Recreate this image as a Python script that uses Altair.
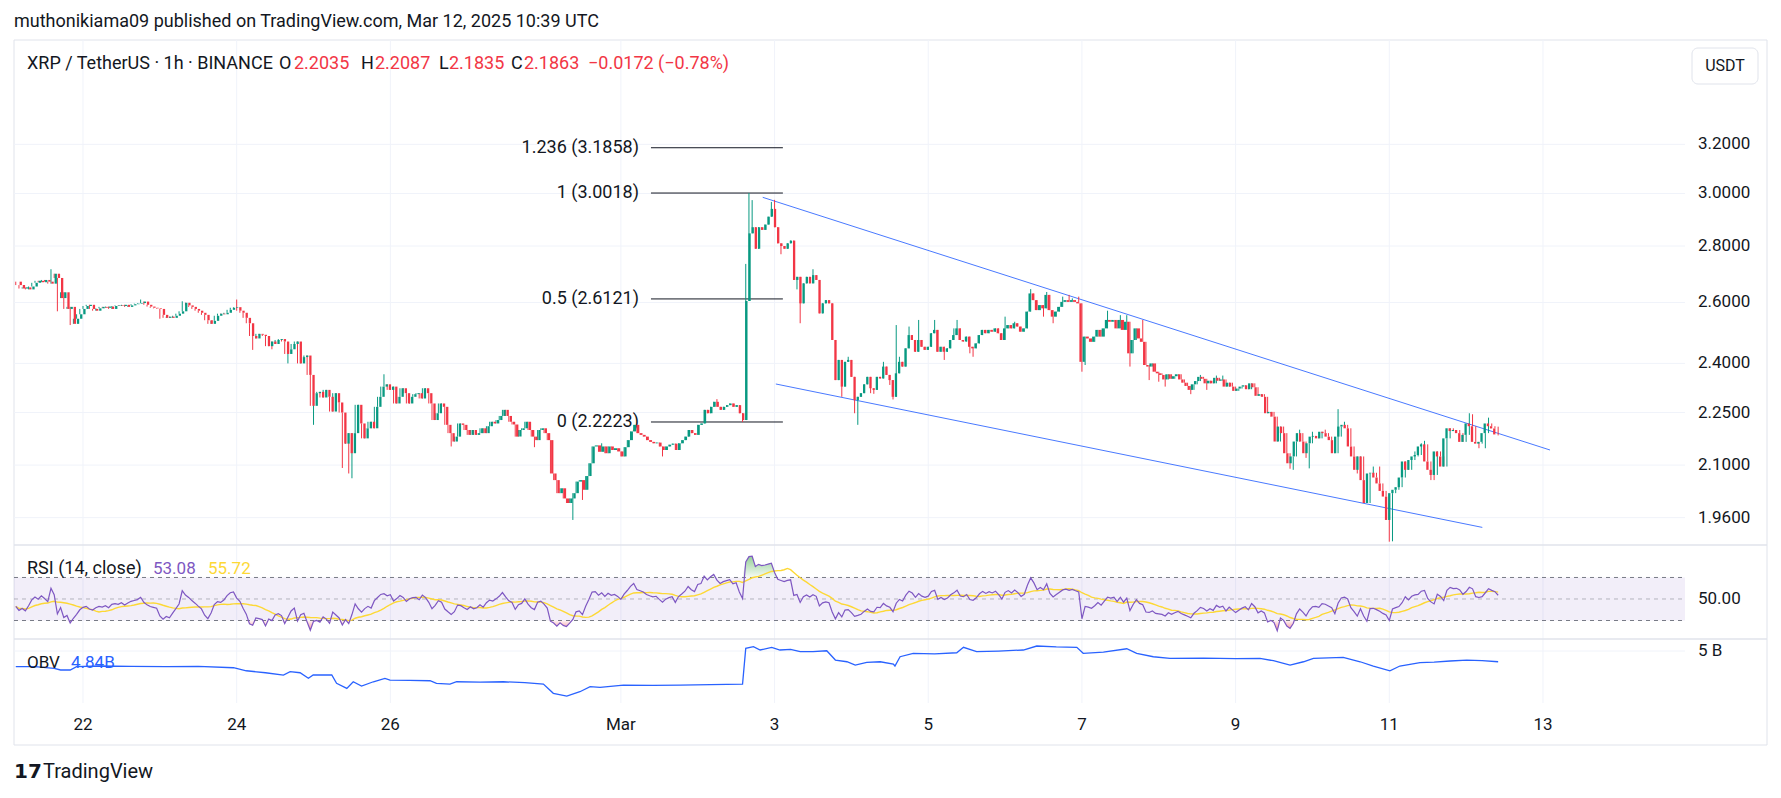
import altair as alt
import pandas as pd
import numpy as np

W, H = 1765, 782
FONT = "Roboto"
INK = "#131722"
UP, DOWN = "#089981", "#F23645"
GRID = "#F0F3FA"
BORDER = "#E0E3EB"
RSI_COL, MA_COL, OBV_COL = "#7E57C2", "#FDD835", "#2962FF"

# ---------------- hourly candles (hour index 0 = Feb 22 00:00 UTC) ----------------
first_open = 2.672
feb21 = [2.660, 2.648, 2.652, 2.645, 2.655, 2.668, 2.675, 2.670, 2.678, 2.672, 2.665, 2.700, 2.685, 2.615, 2.635, 2.578, 2.585, 2.528, 2.545, 2.560, 2.578]
feb22 = [2.588, 2.592, 2.578, 2.572, 2.580, 2.585, 2.582, 2.586, 2.578, 2.588, 2.590, 2.588, 2.592, 2.585, 2.590, 2.594, 2.596, 2.598, 2.603, 2.592, 2.586, 2.582, 2.580, 2.578]
feb23 = [2.558, 2.548, 2.552, 2.548, 2.555, 2.562, 2.570, 2.599, 2.590, 2.585, 2.578, 2.572, 2.565, 2.558, 2.540, 2.528, 2.538, 2.555, 2.562, 2.560, 2.565, 2.575, 2.582, 2.584]
feb24 = [2.572, 2.565, 2.548, 2.530, 2.488, 2.480, 2.495, 2.492, 2.488, 2.455, 2.470, 2.462, 2.475, 2.478, 2.470, 2.430, 2.445, 2.462, 2.470, 2.400, 2.420, 2.425, 2.364, 2.270]
feb25 = [2.308, 2.312, 2.295, 2.318, 2.297, 2.253, 2.308, 2.280, 2.250, 2.160, 2.190, 2.133, 2.190, 2.273, 2.218, 2.175, 2.204, 2.223, 2.204, 2.267, 2.297, 2.328, 2.335, 2.318]
feb26 = [2.328, 2.277, 2.297, 2.323, 2.308, 2.277, 2.297, 2.305, 2.308, 2.292, 2.323, 2.308, 2.277, 2.228, 2.248, 2.277, 2.267, 2.214, 2.190, 2.166, 2.180, 2.218, 2.214, 2.199]
feb27 = [2.185, 2.199, 2.185, 2.190, 2.204, 2.190, 2.210, 2.223, 2.218, 2.228, 2.240, 2.258, 2.240, 2.223, 2.215, 2.180, 2.199, 2.204, 2.223, 2.199, 2.180, 2.170, 2.199, 2.204]
feb28 = [2.190, 2.170, 2.077, 2.059, 2.024, 2.037, 2.010, 1.998, 2.010, 2.024, 2.055, 2.059, 2.033, 2.070, 2.105, 2.152, 2.155, 2.137, 2.152, 2.133, 2.152, 2.142, 2.147, 2.138]
mar01 = [2.124, 2.150, 2.170, 2.195, 2.214, 2.190, 2.185, 2.180, 2.170, 2.165, 2.161, 2.163, 2.152, 2.142, 2.152, 2.157, 2.160, 2.142, 2.161, 2.170, 2.180, 2.199, 2.190, 2.185]
mar02 = [2.214, 2.218, 2.258, 2.248, 2.267, 2.282, 2.267, 2.258, 2.267, 2.272, 2.277, 2.267, 2.272, 2.248, 2.228, 2.605, 2.847, 2.870, 2.790, 2.870, 2.860, 2.880, 2.910, 2.940]
mar03 = [2.870, 2.810, 2.800, 2.790, 2.810, 2.820, 2.678, 2.689, 2.597, 2.666, 2.689, 2.666, 2.695, 2.678, 2.563, 2.597, 2.608, 2.597, 2.475, 2.348, 2.411, 2.328, 2.405, 2.411]
mar04 = [2.358, 2.287, 2.297, 2.308, 2.335, 2.358, 2.323, 2.318, 2.358, 2.353, 2.390, 2.364, 2.348, 2.297, 2.369, 2.405, 2.390, 2.448, 2.491, 2.475, 2.437, 2.475, 2.453, 2.443]
mar05 = [2.453, 2.497, 2.508, 2.437, 2.453, 2.437, 2.448, 2.475, 2.491, 2.513, 2.475, 2.470, 2.486, 2.453, 2.448, 2.464, 2.491, 2.508, 2.497, 2.508, 2.502, 2.513, 2.497, 2.475]
mar06 = [2.513, 2.524, 2.513, 2.530, 2.519, 2.502, 2.513, 2.569, 2.631, 2.608, 2.574, 2.591, 2.580, 2.626, 2.574, 2.552, 2.569, 2.585, 2.602, 2.608, 2.602, 2.608, 2.602, 2.597]
mar07 = [2.405, 2.486, 2.480, 2.469, 2.486, 2.508, 2.486, 2.513, 2.541, 2.535, 2.541, 2.513, 2.541, 2.508, 2.535, 2.432, 2.475, 2.513, 2.480, 2.469, 2.395, 2.390, 2.400, 2.374]
mar08 = [2.369, 2.364, 2.350, 2.366, 2.352, 2.360, 2.366, 2.350, 2.340, 2.330, 2.318, 2.335, 2.345, 2.358, 2.352, 2.338, 2.346, 2.338, 2.355, 2.346, 2.350, 2.328, 2.340, 2.328]
mar09 = [2.315, 2.322, 2.328, 2.332, 2.320, 2.338, 2.326, 2.300, 2.305, 2.297, 2.248, 2.252, 2.238, 2.166, 2.209, 2.190, 2.133, 2.105, 2.124, 2.166, 2.190, 2.166, 2.133, 2.161]
mar10 = [2.180, 2.182, 2.175, 2.194, 2.190, 2.180, 2.170, 2.133, 2.180, 2.209, 2.214, 2.204, 2.152, 2.124, 2.087, 2.124, 2.059, 1.998, 2.077, 2.079, 2.066, 2.050, 2.030, 2.015]
mar11 = [1.954, 2.024, 2.033, 2.040, 2.066, 2.110, 2.087, 2.114, 2.124, 2.128, 2.152, 2.158, 2.110, 2.087, 2.073, 2.138, 2.124, 2.096, 2.175, 2.204, 2.196, 2.199, 2.190, 2.165]
mar12 = [2.185, 2.218, 2.210, 2.165, 2.160, 2.165, 2.190, 2.218, 2.210, 2.2035, 2.1863]
first_hour = -21

# visible wick extremes (hour index -> price)
wick_hi = {-10: 2.716, 18: 2.610, 31: 2.604, 48: 2.610, 94: 2.366, 162: 2.161, 198: 2.290,
           207: 2.735, 208: 3.0018, 209: 2.974, 215: 2.967, 216: 2.975, 228: 2.716, 239: 2.421,
           250: 2.405, 254: 2.524, 255: 2.421, 258: 2.519, 261: 2.541, 266: 2.541, 272: 2.513,
           273: 2.541, 288: 2.552, 291: 2.535, 296: 2.646, 301: 2.636, 306: 2.620, 308: 2.626,
           309: 2.614, 311: 2.620, 320: 2.572, 324: 2.557, 326: 2.557, 331: 2.541, 349: 2.364,
           354: 2.362, 356: 2.362, 380: 2.200, 384: 2.194, 388: 2.200, 392: 2.260, 394: 2.223,
           403: 2.096, 405: 2.096, 408: 2.020, 411: 2.060, 416: 2.138, 418: 2.161, 419: 2.168,
           433: 2.248, 434: 2.245, 439: 2.235, 442: 2.2087}
wick_lo = {-8: 2.570, -4: 2.524, 24: 2.545, 53: 2.443, 59: 2.445, 64: 2.400, 72: 2.214, 81: 2.092,
           83: 2.077, 84: 2.064, 115: 2.152, 141: 2.150, 153: 1.954, 156: 2.006, 181: 2.124,
           206: 2.2223, 218: 2.770, 223: 2.645, 224: 2.530, 237: 2.297, 241: 2.248, 242: 2.214,
           246: 2.308, 247: 2.306, 252: 2.333, 253: 2.289, 269: 2.411, 277: 2.432, 278: 2.421,
           300: 2.552, 303: 2.530, 312: 2.374, 313: 2.395, 327: 2.390, 333: 2.348, 336: 2.343,
           338: 2.328, 346: 2.305, 351: 2.318, 377: 2.090, 378: 2.087, 382: 2.120, 383: 2.091,
           398: 2.077, 408: 1.899, 409: 1.900, 421: 2.059, 422: 2.059, 436: 2.147, 438: 2.147,
           442: 2.1835}

# OBV (billions)
obv_h = [-21, -15, -9, -7, -4, -2, 5, 15, 26, 36, 47, 51, 57, 62.6, 64.7, 67.8, 70.4, 71.9, 77.7, 79.2,
         82.4, 84.4, 87, 90.7, 94.3, 95.9, 102, 108.4, 110.4, 114.6, 116.7, 124, 131.3, 138, 143.8,
         146.9, 151.1, 155.2, 158.4, 161.5, 168.8, 178, 186.5, 196, 206, 207, 209.4, 211.5, 215.1,
         217.7, 221, 224, 228, 232.3, 235, 238.6, 241.2, 244.8, 249, 253.1, 253.6, 255.2, 259.3, 266,
         272.9, 275, 279.1, 286, 293.7, 297.9, 304, 310.4, 312.4, 318.7, 326, 329.1, 334.3, 339.5,
         350, 360, 367.6, 371.8, 377, 381.2, 384.3, 393.6, 398.9, 403, 408.2, 411.3, 417.6, 422,
         427, 432.2, 437, 442]
obv_b = [4.772, 4.772, 4.748, 4.724, 4.724, 4.772, 4.782, 4.778, 4.772, 4.776, 4.757, 4.713, 4.684,
         4.651, 4.699, 4.684, 4.603, 4.651, 4.651, 4.530, 4.457, 4.553, 4.491, 4.553, 4.603, 4.578,
         4.573, 4.568, 4.530, 4.520, 4.553, 4.548, 4.553, 4.540, 4.520, 4.385, 4.345, 4.408, 4.481,
         4.472, 4.505, 4.500, 4.505, 4.512, 4.520, 5.039, 5.063, 5.015, 5.054, 5.015, 5.025, 4.990,
         4.990, 5.004, 4.869, 4.844, 4.796, 4.836, 4.844, 4.811, 4.782, 4.917, 4.967, 4.960, 4.975,
         5.054, 4.990, 5.000, 5.015, 5.073, 5.060, 5.054, 4.967, 4.985, 5.033, 4.967, 4.917, 4.894,
         4.898, 4.890, 4.894, 4.859, 4.796, 4.844, 4.894, 4.908, 4.844, 4.782, 4.713, 4.782, 4.830,
         4.838, 4.855, 4.869, 4.860, 4.844]

# drawings
fib_levels = ["1.236", "1", "0.5", "0"]
fib_prices = [3.1858, 3.0018, 2.6121, 2.2223]
fib_h_start, fib_h_end = 177.4, 218.6
chan_id = ["upper", "upper", "lower", "lower"]
chan_h = [212.3, 458.2, 216.4, 437.05]
chan_p = [2.985, 2.142, 2.336, 1.935]

# axes
price_ticks = [3.2, 3.0, 2.8, 2.6, 2.4, 2.25, 2.1, 1.96]
price_tick_labels = ["3.2000", "3.0000", "2.8000", "2.6000", "2.4000", "2.2500", "2.1000", "1.9600"]
day_ticks_h = [0, 48, 96, 168, 216, 264, 312, 360, 408, 456]
day_labels = ["22", "24", "26", "Mar", "3", "5", "7", "9", "11", "13"]
rsi_period = 14
rsi_seed_gain, rsi_seed_loss = 0.0045, 0.0050

# ---------------- tables ----------------
closes = (feb21 + feb22 + feb23 + feb24 + feb25 + feb26 + feb27 + feb28 + mar01 + mar02 + mar03 +
          mar04 + mar05 + mar06 + mar07 + mar08 + mar09 + mar10 + mar11 + mar12)
hours = list(range(first_hour, first_hour + len(closes)))
opens = [first_open] + closes[:-1]
his, los = [], []
for hh, o, c in zip(hours, opens, closes):
    top, bot = max(o, c), min(o, c)
    his.append(max(top, wick_hi.get(hh, top)))
    los.append(min(bot, wick_lo.get(hh, bot)))
candles = pd.DataFrame({"h": hours, "o": opens, "c": closes, "hi": his, "lo": los})
candles["dir"] = np.where(candles["c"] >= candles["o"], "up", "down")

ag, al, prev = rsi_seed_gain, rsi_seed_loss, first_open
rsi = []
for c in closes:
    d = c - prev
    prev = c
    ag = (ag * (rsi_period - 1) + max(d, 0.0)) / rsi_period
    al = (al * (rsi_period - 1) + max(-d, 0.0)) / rsi_period
    rsi.append(100.0 - 100.0 / (1.0 + ag / al))
ma = [float(np.mean(rsi[max(0, i - rsi_period + 1): i + 1])) for i in range(len(rsi))]
rsi_df = pd.DataFrame({"h": hours, "rsi": rsi, "ma": ma})
rsi_df["ob"] = np.maximum(rsi_df["rsi"], 70)
rsi_df["os"] = np.minimum(rsi_df["rsi"], 30)
rsi_df["l70"] = 70.0
rsi_df["l30"] = 30.0
obv_df = pd.DataFrame({"h": obv_h, "v": obv_b})

fib_df = pd.DataFrame({"p": fib_prices, "h0": fib_h_start, "h1": fib_h_end,
                       "t": [f"{l} ({p:.4f})" for l, p in zip(fib_levels, fib_prices)]})
chan_df = pd.DataFrame({"id": chan_id, "h": chan_h, "p": chan_p})
ptick_df = pd.DataFrame({"p": price_ticks, "t": price_tick_labels})
day_df = pd.DataFrame({"h": day_ticks_h, "t": day_labels})

# ---------------- scales ----------------
H_LEFT, H_RIGHT = -21.551, 500.36
xs = alt.Scale(domain=[H_LEFT, H_RIGHT], range=[6, 1677], nice=False, zero=False)
ysp = alt.Scale(type="log", domain=[1.8908, 3.670], range=[537, 32], nice=False)
ysr = alt.Scale(domain=[12.8, 100.2], range=[631, 537], nice=False, zero=False)
yso = alt.Scale(domain=[4.244, 5.175], range=[695, 631], nice=False, zero=False)
pxx = alt.Scale(domain=[0, W], range=[0, W], nice=False, zero=False)
pxy = alt.Scale(domain=[0, H], range=[0, H], nice=False, zero=False)


def X(f):
    return alt.X(f, type="quantitative", scale=xs, axis=None)


def Y(f, s):
    return alt.Y(f, type="quantitative", scale=s, axis=None)


def PX(f):
    return alt.X(f, type="quantitative", scale=pxx, axis=None)


def PY(f):
    return alt.Y(f, type="quantitative", scale=pxy, axis=None)


def texts(rows, size, weight="normal", align="left", font=FONT):
    df = pd.DataFrame(rows, columns=["t", "x", "y", "col"])
    return alt.Chart(df).mark_text(align=align, baseline="middle", fontSize=size, font=font,
                                   fontWeight=weight).encode(
        x=PX("x"), y=PY("y"), text="t:N", color=alt.Color("col:N", scale=None))


layers = []
# frame
frame = pd.DataFrame({"x0": [6], "x1": [1759], "y0": [32], "y1": [737]})
layers.append(alt.Chart(frame).mark_rect(fill="white", stroke=BORDER, strokeWidth=1).encode(
    x=PX("x0"), x2="x1", y=PY("y0"), y2="y1"))
# vertical grid
layers.append(alt.Chart(day_df).mark_rule(color=GRID, strokeWidth=1).encode(
    x=X("h"), y=alt.value(32), y2=alt.value(695)))
# price grid
layers.append(alt.Chart(ptick_df).mark_rule(color=GRID, strokeWidth=1).encode(
    y=Y("p", ysp), x=alt.value(6), x2=alt.value(1677)))
# OBV grid
layers.append(alt.Chart(pd.DataFrame({"v": [5.0]})).mark_rule(color=GRID, strokeWidth=1).encode(
    y=Y("v", yso), x=alt.value(6), x2=alt.value(1677)))
# pane separators
sep = pd.DataFrame({"x0": [6, 6], "x1": [1759, 1759], "y": [537, 631]})
layers.append(alt.Chart(sep).mark_rule(color=BORDER, strokeWidth=1.5).encode(
    x=PX("x0"), x2="x1", y=PY("y")))
# RSI band
layers.append(alt.Chart(pd.DataFrame({"a": [30.0], "b": [70.0]})).mark_rect(
    color=RSI_COL, opacity=0.1).encode(y=Y("a", ysr), y2="b", x=alt.value(6), x2=alt.value(1677)))
layers.append(alt.Chart(pd.DataFrame({"v": [70.0, 30.0]})).mark_rule(
    color="#787B86", strokeDash=[4, 4], strokeWidth=1).encode(
    y=Y("v", ysr), x=alt.value(6), x2=alt.value(1677)))
layers.append(alt.Chart(pd.DataFrame({"v": [50.0]})).mark_rule(
    color="#787B86", strokeDash=[4, 4], strokeWidth=1, opacity=0.5).encode(
    y=Y("v", ysr), x=alt.value(6), x2=alt.value(1677)))

# fib retracement
layers.append(alt.Chart(fib_df).mark_rule(color=INK, strokeWidth=1).encode(
    x=X("h0"), x2="h1", y=Y("p", ysp)))
layers.append(alt.Chart(fib_df).mark_text(align="right", baseline="middle", dx=-12, fontSize=18,
                                          font=FONT, color=INK).encode(
    x=X("h0"), y=Y("p", ysp), text="t:N"))
# channel
layers.append(alt.Chart(chan_df).mark_line(color="#2962FF", strokeWidth=1, opacity=0.85).encode(
    x=X("h"), y=Y("p", ysp), detail="id:N"))
# candles
cscale = alt.Scale(domain=["up", "down"], range=[UP, DOWN])
layers.append(alt.Chart(candles).mark_rule(strokeWidth=1).encode(
    x=X("h"), y=Y("lo", ysp), y2="hi", color=alt.Color("dir:N", scale=cscale, legend=None)))
layers.append(alt.Chart(candles).mark_bar(size=2.3).encode(
    x=X("h"), y=Y("o", ysp), y2="c", color=alt.Color("dir:N", scale=cscale, legend=None)))

# RSI
ob_grad = alt.Gradient(gradient="linear", x1=0, x2=0, y1=1, y2=0,
                       stops=[alt.GradientStop(color="rgba(76,175,80,0.05)", offset=0),
                              alt.GradientStop(color="rgba(76,175,80,0.6)", offset=1)])
os_grad = alt.Gradient(gradient="linear", x1=0, x2=0, y1=0, y2=1,
                       stops=[alt.GradientStop(color="rgba(242,54,69,0.05)", offset=0),
                              alt.GradientStop(color="rgba(242,54,69,0.6)", offset=1)])
layers.append(alt.Chart(rsi_df).mark_area(color=ob_grad).encode(x=X("h"), y=Y("ob", ysr), y2="l70"))
layers.append(alt.Chart(rsi_df).mark_area(color=os_grad).encode(x=X("h"), y=Y("l30", ysr), y2="os"))
layers.append(alt.Chart(rsi_df).mark_line(color=MA_COL, strokeWidth=1.4).encode(x=X("h"), y=Y("ma", ysr)))
layers.append(alt.Chart(rsi_df).mark_line(color=RSI_COL, strokeWidth=1.2).encode(x=X("h"), y=Y("rsi", ysr)))
# OBV
layers.append(alt.Chart(obv_df).mark_line(color=OBV_COL, strokeWidth=1.3).encode(x=X("h"), y=Y("v", yso)))

# axis labels
layers.append(alt.Chart(ptick_df).mark_text(align="left", baseline="middle", fontSize=17, font=FONT,
                                            color=INK).encode(y=Y("p", ysp), x=alt.value(1690), text="t:N"))
layers.append(alt.Chart(pd.DataFrame({"v": [50.0], "t": ["50.00"]})).mark_text(
    align="left", baseline="middle", fontSize=17, font=FONT, color=INK).encode(
    y=Y("v", ysr), x=alt.value(1690), text="t:N"))
layers.append(alt.Chart(pd.DataFrame({"v": [5.0], "t": ["5 B"]})).mark_text(
    align="left", baseline="middle", fontSize=17, font=FONT, color=INK).encode(
    y=Y("v", yso), x=alt.value(1690), text="t:N"))
layers.append(alt.Chart(day_df).mark_text(align="center", baseline="middle", fontSize=17, font=FONT,
                                          color=INK).encode(x=X("h"), y=alt.value(717), text="t:N"))

# USDT box
layers.append(alt.Chart(pd.DataFrame({"x0": [1684], "x1": [1750], "y0": [40], "y1": [76]})).mark_rect(
    fill="white", stroke=BORDER, strokeWidth=1, cornerRadius=6).encode(
    x=PX("x0"), x2="x1", y=PY("y0"), y2="y1"))
layers.append(texts([("USDT", 1717, 58, INK)], 16, align="center"))

# header / legends / footer
layers.append(texts([("muthonikiama09 published on TradingView.com, Mar 12, 2025 10:39 UTC", 6, 14, INK)], 18))
layers.append(texts([("XRP / TetherUS · 1h · BINANCE", 19, 56, INK),
                     ("O", 271, 56, INK), ("2.2035", 286, 56, DOWN),
                     ("H", 353, 56, INK), ("2.2087", 367, 56, DOWN),
                     ("L", 431, 56, INK), ("2.1835", 441, 56, DOWN),
                     ("C", 503, 56, INK), ("2.1863", 516, 56, DOWN),
                     ("−0.0172 (−0.78%)", 580, 56, DOWN)], 18))
layers.append(texts([("RSI (14, close)", 19, 561, INK)], 18))
layers.append(texts([("53.08", 145, 561, RSI_COL), ("55.72", 200, 561, MA_COL)], 17))
layers.append(texts([("OBV", 19, 655, INK), ("4.84B", 63, 655, OBV_COL)], 17))
layers.append(texts([("17", 6, 764, INK)], 20, weight="bold", font="DejaVu Sans"))
layers.append(texts([("TradingView", 35, 764, INK)], 20))

chart = alt.layer(*layers).resolve_scale(x="independent", y="independent", color="independent").properties(
    width=W, height=H, padding=0, autosize=alt.AutoSizeParams(type="none"), background="white"
).configure_view(stroke=None)

chart.save("out.html", embed_options={"renderer": "svg", "actions": False})
